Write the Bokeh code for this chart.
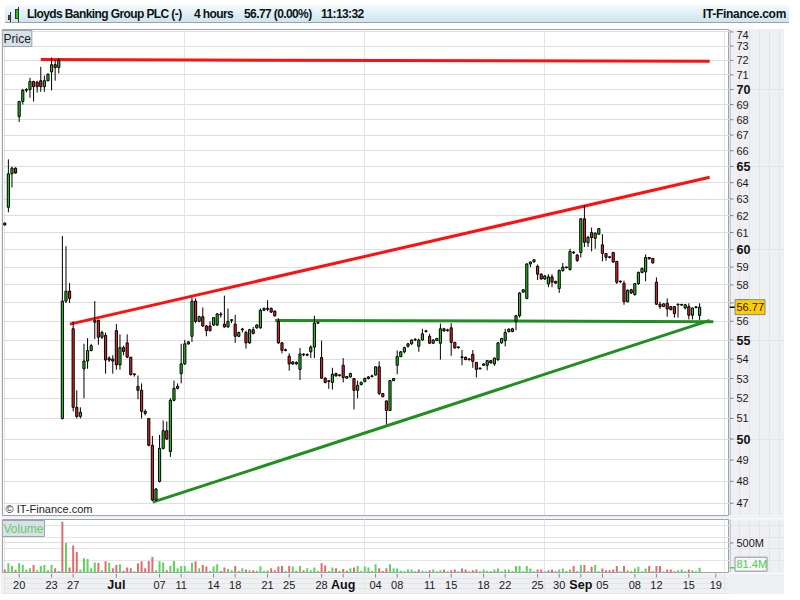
from bokeh.plotting import figure
from bokeh.models import FixedTicker, Label, Div, Range1d, ColumnDataSource, Grid
from bokeh.layouts import column, row
from bokeh.core.properties import value
from bokeh.embed import file_html
from bokeh.resources import INLINE

# ---------------- data (4-hour bars, index = bar number) ----------------
opens = [61.55, 62.5, 64.55, 64.9, 68.2, 69.2, 69.95, 70.0, 70.55, 70.5,
         70.6, 70.2, 70.6, 71.2, 71.7, 71.5, 51.0, 57.1, 57.65, 55.6,
         51.55, 51.1, 53.5, 53.9, 54.45, 55.95, 56.05, 55.15, 55.25, 54.05,
         54.0, 55.5, 53.7, 54.6, 54.85, 54.1, 53.2, 52.6, 52.4, 51.35,
         51.0, 49.7, 47.15, 48.0, 49.55, 50.4, 49.4, 51.9, 52.5, 53.25,
         53.75, 54.8, 55.2, 57.1, 56.0, 56.25, 55.75, 55.75, 55.8, 55.8,
         56.35, 55.85, 55.7, 56.05, 55.85, 55.2, 55.55, 55.4, 54.85, 55.55,
         55.65, 55.65, 56.6, 56.65, 56.7, 56.55, 56.0, 54.85, 54.45, 54.15,
         53.75, 53.75, 53.47, 54.25, 54.2, 54.38, 54.63, 55.9, 54.08, 53.02,
         52.85, 52.8, 53.25, 53.15, 53.68, 53.1, 53.08, 53.0, 52.4, 52.69,
         52.85, 53.0, 53.1, 53.18, 53.6, 52.24, 51.87, 51.39, 52.89, 53.68,
         54.13, 54.38, 54.67, 54.8, 55.0, 54.67, 55.0, 55.45, 55.2, 54.83,
         54.97, 54.83, 55.6, 55.5, 55.65, 54.88, 54.6, 54.1, 54.1, 54.0,
         54.25, 53.83, 53.5, 53.68, 53.68, 53.92, 53.75, 53.97, 54.85, 54.97,
         55.45, 55.6, 56.0, 56.3, 57.6, 57.25, 59.18, 59.3, 59.05, 58.6,
         58.33, 58.05, 58.45, 58.2, 57.8, 58.8, 58.98, 58.87, 59.85, 59.69,
         59.84, 61.81, 60.4, 61.0, 60.66, 60.9, 60.28, 59.78, 59.56, 59.84,
         59.33, 58.18, 58.09, 57.07, 57.73, 57.46, 58.07, 58.7, 58.73, 59.55,
         59.5, 58.15, 56.93, 56.8, 56.98, 56.8, 56.8, 56.9, 56.88, 56.72,
         56.8, 56.33, 56.75, 56.32]
highs = [61.6, 65.45, 65.0, 64.95, 69.25, 70.05, 70.1, 70.8, 70.6, 70.6,
         71.55, 70.95, 71.1, 72.2, 72.0, 72.15, 60.8, 60.2, 58.1, 56.0,
         52.4, 51.55, 54.8, 55.1, 54.8, 57.1, 56.1, 55.5, 55.4, 54.15,
         54.2, 55.85, 55.3, 54.7, 55.3, 54.1, 53.25, 53.15, 52.75, 51.45,
         51.0, 50.15, 47.7, 50.2, 50.9, 50.85, 52.0, 52.9, 52.75, 54.8,
         55.0, 54.95, 57.3, 57.25, 56.3, 56.75, 55.8, 56.0, 56.2, 56.45,
         56.5, 57.4, 56.7, 56.1, 56.35, 55.45, 55.65, 55.5, 55.6, 55.7,
         55.85, 56.7, 56.75, 57.15, 56.75, 56.6, 56.17, 54.9, 54.55, 54.3,
         53.9, 53.88, 54.58, 54.3, 54.3, 54.72, 56.3, 55.98, 54.97, 53.05,
         52.92, 53.55, 53.3, 53.2, 54.05, 53.12, 53.3, 53.0, 52.89, 52.85,
         53.05, 53.12, 53.2, 53.62, 53.88, 52.27, 51.87, 52.92, 53.02, 54.45,
         54.42, 54.65, 54.85, 55.03, 55.1, 55.08, 55.6, 55.55, 55.33, 55.05,
         55.12, 55.88, 55.65, 55.6, 55.9, 54.9, 54.65, 54.47, 54.12, 54.02,
         54.47, 53.85, 53.55, 53.78, 53.95, 53.95, 54.08, 54.9, 55.12, 55.6,
         55.62, 55.65, 56.35, 57.6, 57.75, 59.22, 59.32, 59.45, 59.15, 58.65,
         58.55, 58.6, 58.6, 58.22, 58.85, 59.24, 59.02, 60.05, 59.92, 59.75,
         61.85, 62.63, 60.81, 61.29, 61.0, 61.25, 60.9, 59.8, 59.6, 59.87,
         59.35, 58.25, 58.24, 57.75, 57.78, 58.1, 58.75, 58.97, 59.73, 59.58,
         59.52, 58.42, 57.07, 56.97, 57.25, 56.82, 56.82, 56.93, 56.95, 56.95,
         56.98, 56.75, 56.82, 56.98]
lows = [61.4, 62.2, 63.7, 64.55, 67.85, 69.0, 69.8, 69.45, 69.2, 69.8,
        69.85, 69.85, 70.55, 69.95, 70.6, 71.1, 50.95, 57.0, 57.0, 51.35,
        51.0, 51.0, 52.0, 53.5, 54.4, 55.05, 54.75, 55.05, 53.25, 53.85,
        53.25, 53.45, 53.45, 54.2, 54.05, 53.15, 53.1, 51.95, 51.0, 51.15,
        49.65, 47.1, 47.1, 47.95, 49.5, 49.95, 49.15, 51.85, 52.45, 52.75,
        53.7, 54.75, 54.9, 55.9, 55.95, 55.7, 55.2, 55.45, 55.75, 55.75,
        56.2, 55.65, 55.65, 55.9, 54.85, 55.15, 55.4, 54.55, 54.8, 55.3,
        55.6, 55.6, 56.55, 56.55, 56.45, 56.25, 54.8, 54.3, 54.4, 53.4,
        53.7, 53.7, 52.92, 54.15, 54.15, 54.05, 54.05, 55.85, 52.98, 52.75,
        52.48, 52.44, 53.1, 53.1, 52.8, 53.0, 53.05, 51.44, 52.0, 52.65,
        52.8, 52.95, 53.05, 53.15, 52.16, 52.05, 50.71, 51.39, 52.87, 53.22,
        54.1, 54.3, 54.6, 54.75, 54.95, 54.38, 54.97, 55.4, 54.8, 54.8,
        54.95, 53.97, 55.45, 55.45, 54.17, 54.55, 54.55, 53.68, 53.95, 53.92,
        53.55, 53.05, 53.45, 53.65, 53.42, 53.78, 53.65, 53.9, 54.8, 54.66,
        55.4, 55.42, 55.52, 56.2, 57.55, 57.2, 59.0, 59.25, 58.27, 58.3,
        58.28, 57.87, 57.87, 58.05, 57.55, 58.75, 58.93, 58.8, 59.75, 59.3,
        59.55, 60.15, 60.15, 59.9, 60.05, 60.88, 59.33, 59.36, 59.5, 59.24,
        58.05, 58.1, 56.9, 57.02, 57.5, 57.4, 58.0, 58.65, 58.2, 59.45,
        59.2, 56.9, 56.67, 56.78, 56.25, 56.6, 56.2, 56.2, 56.85, 56.65,
        56.1, 56.1, 56.7, 56.07]
closes = [61.45, 64.55, 64.9, 64.6, 69.2, 69.95, 70.0, 70.55, 70.2, 70.2,
          70.2, 70.6, 71.05, 71.7, 71.5, 72.0, 57.1, 57.65, 57.25, 51.55,
          51.1, 51.3, 53.9, 54.45, 54.7, 56.05, 55.15, 55.4, 53.95, 53.95,
          53.9, 53.7, 54.6, 54.4, 54.1, 53.2, 53.2, 52.4, 51.35, 51.25,
          49.7, 47.15, 47.65, 49.55, 50.4, 50.0, 51.9, 52.5, 52.6, 53.75,
          54.8, 54.9, 57.1, 56.0, 56.25, 55.75, 55.5, 55.5, 56.2, 56.4,
          56.35, 55.7, 56.0, 56.05, 55.2, 55.4, 55.55, 54.85, 55.55, 55.35,
          55.8, 56.6, 56.7, 56.7, 56.5, 56.3, 54.85, 54.45, 54.45, 53.75,
          53.85, 53.83, 54.27, 54.22, 54.23, 54.63, 55.91, 55.92, 53.02, 52.8,
          52.85, 53.22, 53.13, 53.17, 53.05, 53.02, 53.25, 52.4, 52.65, 52.8,
          53.0, 53.08, 53.13, 53.6, 52.24, 52.08, 51.39, 52.89, 53.0, 54.13,
          54.38, 54.6, 54.8, 55.0, 55.02, 55.0, 55.33, 55.47, 54.83, 55.0,
          55.08, 55.6, 55.48, 55.52, 54.88, 54.58, 54.6, 54.08, 53.97, 53.97,
          53.88, 53.47, 53.52, 53.75, 53.92, 53.8, 54.05, 54.85, 55.08, 55.4,
          55.58, 55.45, 56.3, 57.55, 57.73, 59.18, 59.29, 59.42, 58.6, 58.33,
          58.5, 58.45, 58.15, 58.1, 58.82, 59.0, 58.97, 59.9, 59.82, 59.38,
          61.81, 60.43, 60.72, 60.7, 60.96, 61.23, 59.78, 59.56, 59.55, 59.29,
          58.15, 58.17, 57.07, 57.7, 57.55, 58.07, 58.7, 58.93, 59.55, 59.47,
          59.24, 56.93, 56.8, 56.95, 56.67, 56.63, 56.42, 56.9, 56.9, 56.9,
          56.33, 56.72, 56.77, 56.77]
volumes_m = [50, 155, 110, 45, 155, 125, 50, 70, 125, 40,
             110, 125, 40, 125, 70, 25, 860, 500, 85, 455,
             345, 50, 240, 230, 70, 170, 160, 40, 190, 165,
             70, 125, 140, 30, 85, 70, 20, 155, 190, 70,
             195, 260, 40, 190, 170, 40, 115, 195, 70, 110,
             110, 25, 165, 190, 70, 125, 100, 25, 100, 140,
             25, 85, 60, 40, 110, 25, 70, 50, 40, 40,
             30, 105, 25, 40, 70, 40, 100, 110, 25, 110,
             100, 25, 110, 40, 70, 40, 85, 25, 155, 120,
             25, 85, 70, 30, 60, 30, 70, 85, 110, 25,
             100, 85, 25, 140, 70, 25, 70, 140, 70, 69,
             29, 23, 52, 52, 23, 52, 29, 23, 40, 52,
             23, 40, 52, 23, 40, 52, 23, 69, 52, 23,
             40, 52, 23, 52, 29, 23, 52, 69, 23, 52,
             52, 23, 109, 109, 23, 109, 69, 23, 52, 52,
             23, 40, 52, 23, 52, 69, 23, 52, 109, 23,
             126, 126, 23, 98, 126, 23, 69, 40, 40, 52,
             109, 23, 109, 40, 23, 69, 98, 23, 69, 109,
             23, 109, 109, 23, 52, 52, 23, 40, 52, 23,
             52, 40, 23, 81.4]

price_ticks = list(range(47, 75))
bold_price_ticks = [50, 55, 60, 65, 70]
date_tick_pos = [4, 13, 19, 31, 43, 49, 58, 64, 73, 79, 88, 94, 103, 109,
                 118, 124, 133, 139, 148, 154, 160, 166, 175, 181, 190, 197.5]
date_tick_labels = ["20", "23", "27", "Jul", "07", "11", "14", "18", "21", "25",
                    "28", "Aug", "04", "08", "11", "15", "18", "22", "25", "30",
                    "Sep", "05", "08", "12", "15", "19"]
bold_date_labels = ["Jul", "Aug", "Sep"]
last_price = 56.77
last_volume_m = 81.4
volume_tick_m = 500

# trend lines (bar index, price)
red_flat_x, red_flat_y = [10.0, 195.8], [72.05, 71.93]
red_up_x, red_up_y = [18.1, 195.8], [55.85, 64.33]
green_flat_x, green_flat_y = [75.1, 196.8], [56.05, 55.98]
green_up_x, green_up_y = [41.1, 195.8], [47.05, 56.05]

# ---------------- style ----------------
W = 784
ML = 2
AXW = 55
MAIN_W = W - AXW
FONT = "Liberation Sans"
BG = "#eef0f3"
FRAME = "#9aa4ad"
TICK = "#7d8790"
GREEN, RED = "#22c422", "#e32222"
VGREEN, VRED = "#5cd45c", "#e26a6a"
TXT = "#1a1a1a"
H_PRICE, H_VOL, H_X = 490, 55, 21

n = len(closes)
idx = list(range(n))
tops, bots, cols = [], [], []
for o, c in zip(opens, closes):
    lo, hi = min(o, c), max(o, c)
    if hi / lo < 1.0007:
        hi = lo * 1.0007
    tops.append(hi)
    bots.append(lo)
    cols.append(GREEN if c >= o else RED)
vcols = []
for i in range(n):
    ref = closes[i - 1] if i > 0 else opens[i]
    vcols.append(VGREEN if closes[i] >= ref else VRED)

src = ColumnDataSource(dict(x=idx, h=highs, l=lows, top=tops, bot=bots, col=cols))

XR = Range1d(-0.63, 201.3)
YR = Range1d(46.45, 74.17)
VYR = Range1d(0, 896)


def base_fig(**kw):
    return figure(output_backend="svg", toolbar_location=None,
                  x_axis_location=None, y_axis_location=None, **kw)


# ---------------- header ----------------
hs = "position:absolute;top:1px;line-height:16px;"
header_html = (
    '<div style="position:relative;width:784px;height:18px;box-sizing:border-box;'
    'background:linear-gradient(to bottom,#f3fbfe,#cde5ef);border-bottom:1px solid #9aa4ad;'
    "font-family:'Liberation Sans',Arial,sans-serif;font-weight:bold;font-size:12px;"
    'letter-spacing:-0.6px;color:#111;white-space:nowrap;overflow:hidden;">'
    '<span style="position:absolute;left:5px;top:7px;width:1px;height:10px;background:#333;"></span>'
    '<span style="position:absolute;left:3px;top:10px;width:3px;height:5px;background:#e02020;border:1px solid #333;"></span>'
    '<span style="position:absolute;left:13px;top:2px;width:1px;height:15px;background:#333;"></span>'
    '<span style="position:absolute;left:10px;top:4px;width:4px;height:10px;background:#22c422;border:1px solid #333;"></span>'
    f'<span style="{hs}left:22px;">Lloyds Banking Group PLC (-)</span>'
    f'<span style="{hs}left:189px;">4 hours</span>'
    f'<span style="{hs}left:239px;">56.77 (0.00%)</span>'
    f'<span style="{hs}left:316px;">11:13:32</span>'
    f'<span style="{hs}right:3px;letter-spacing:-0.3px;">IT-Finance.com</span>'
    '</div>'
)
header = Div(text=header_html, width=W, height=18)

# ---------------- price panel ----------------
p = base_fig(width=MAIN_W, height=H_PRICE, x_range=XR, y_range=YR, y_axis_type="log",
             min_border_left=ML, min_border_right=0, min_border_top=1, min_border_bottom=3,
             background_fill_color="white", border_fill_color=BG,
             outline_line_color=FRAME, outline_line_width=1)
p.add_layout(Grid(dimension=1, ticker=FixedTicker(ticks=price_ticks, minor_ticks=[]),
                  grid_line_color="#dedede", grid_line_width=1))

p.line(red_flat_x, red_flat_y, line_color="#ff1010", line_width=3)
p.line(red_up_x, red_up_y, line_color="#ff1010", line_width=3)
p.line(green_flat_x, green_flat_y, line_color="#1f8f1f", line_width=3)
p.line(green_up_x, green_up_y, line_color="#1f8f1f", line_width=3)

p.segment(x0="x", y0="l", x1="x", y1="h", source=src, line_color="black", line_width=1)
p.vbar(x="x", width=0.6, top="top", bottom="bot", source=src,
       fill_color="col", line_color="black", line_width=1)

p.add_layout(Label(x=XR.start, y=YR.end, text="Price", y_offset=-1,
                   text_font=FONT, text_font_size="12px", text_color="#1a1a2a",
                   text_baseline="top", text_align="left",
                   background_fill_color="#d9e1e7", border_line_color=FRAME, padding=1))
p.add_layout(Label(x=XR.start, y=YR.start, text="© IT-Finance.com", x_offset=3, y_offset=1,
                   text_font=FONT, text_font_size="11px", text_color="#222",
                   text_baseline="bottom", text_align="left"))

# price axis column (right)
pa = base_fig(width=AXW, height=H_PRICE, x_range=Range1d(0, AXW), y_range=YR, y_axis_type="log",
              min_border_left=0, min_border_right=0, min_border_top=1, min_border_bottom=3,
              background_fill_color=BG, border_fill_color=BG, outline_line_color=None)
pa.segment(x0=0.5, y0=YR.start, x1=0.5, y1=YR.end, line_color=FRAME, line_width=1)
pa.segment(x0=0, y0=price_ticks, x1=4, y1=price_ticks, line_color=TICK, line_width=1)
reg = [t for t in price_ticks if t not in bold_price_ticks and t != price_ticks[-1]]
pa.text(x=7, y=reg, text=[str(t) for t in reg], text_font=value(FONT),
        text_font_size="11px", text_color=TXT, text_baseline="middle", text_align="left")
pa.text(x=7, y=bold_price_ticks, text=[str(t) for t in bold_price_ticks], text_font=value(FONT),
        text_font_size="12.5px", text_font_style="bold", text_color="#111",
        text_baseline="middle", text_align="left")
pa.text(x=7, y=[price_ticks[-1]], text=[str(price_ticks[-1])], y_offset=3, text_font=value(FONT),
        text_font_size="11px", text_color=TXT, text_baseline="middle", text_align="left")
pa.segment(x0=0, y0=last_price, x1=6, y1=last_price, line_color="black", line_width=1.5)
pa.rect(x=20.5, y=last_price, width=30, height=15, height_units="screen",
        fill_color="#ffcc00", line_color="#8a8a8a", line_width=1)
pa.text(x=7, y=[last_price], text=[f"{last_price:.2f}"], text_font=value(FONT),
        text_font_size="11px", text_color="#222", text_baseline="middle", text_align="left")

# ---------------- volume panel ----------------
v = base_fig(width=MAIN_W, height=H_VOL, x_range=XR, y_range=VYR,
             min_border_left=ML, min_border_right=0, min_border_top=1, min_border_bottom=1,
             background_fill_color="white", border_fill_color=BG,
             outline_line_color=FRAME, outline_line_width=1)
v.add_layout(Grid(dimension=1, ticker=FixedTicker(ticks=[volume_tick_m], minor_ticks=[]),
                  grid_line_color="#dedede", grid_line_width=1))
v.vbar(x=idx, top=volumes_m, width=0.55, fill_color=vcols, line_color=None)
v.add_layout(Label(x=XR.start, y=VYR.end, text="Volume", y_offset=-1,
                   text_font=FONT, text_font_size="12px", text_color="#66cc66",
                   text_baseline="top", text_align="left",
                   background_fill_color="#d9e1e7", border_line_color=FRAME, padding=1))

va = base_fig(width=AXW, height=H_VOL, x_range=Range1d(0, AXW), y_range=VYR,
              min_border_left=0, min_border_right=0, min_border_top=1, min_border_bottom=1,
              background_fill_color=BG, border_fill_color=BG, outline_line_color=None)
va.segment(x0=0.5, y0=VYR.start, x1=0.5, y1=VYR.end, line_color=FRAME, line_width=1)
va.segment(x0=0, y0=volume_tick_m, x1=4, y1=volume_tick_m, line_color=TICK, line_width=1)
va.text(x=7, y=[volume_tick_m], text=[f"{volume_tick_m}M"], text_font=value(FONT),
        text_font_size="11px", text_color=TXT, text_baseline="middle", text_align="left")
va.segment(x0=0, y0=last_volume_m, x1=5, y1=last_volume_m, line_color="#55cc55", line_width=1.5)
# the value box sits slightly above its tick so that it stays inside the panel
vol_px = (VYR.end - VYR.start) / (H_VOL - 2)
box_y = last_volume_m + 3.5 * vol_px
va.rect(x=21.5, y=box_y, width=32, height=14, height_units="screen",
        fill_color="#f4f6f8", line_color="#8a949c", line_width=1)
va.text(x=7, y=[box_y], text=[f"{last_volume_m}M"], text_font=value(FONT),
        text_font_size="11px", text_color="#55cc55", text_baseline="middle", text_align="left")

# ---------------- date axis ----------------
xa = base_fig(width=W, height=H_X, x_range=XR, y_range=Range1d(-H_X, 0),
              min_border_left=ML, min_border_right=AXW, min_border_top=0, min_border_bottom=0,
              background_fill_color=BG, border_fill_color=BG, outline_line_color=None)
xa.segment(x0=date_tick_pos, y0=0, x1=date_tick_pos, y1=-4, line_color=TICK, line_width=1)
reg_pos = [pp for pp, lab in zip(date_tick_pos, date_tick_labels) if lab not in bold_date_labels]
reg_lab = [lab for lab in date_tick_labels if lab not in bold_date_labels]
b_pos = [pp for pp, lab in zip(date_tick_pos, date_tick_labels) if lab in bold_date_labels]
b_lab = [lab for lab in date_tick_labels if lab in bold_date_labels]
xa.text(x=reg_pos, y=-11, text=reg_lab, text_font=value(FONT), text_font_size="11px",
        text_color=TXT, text_baseline="middle", text_align="center")
xa.text(x=b_pos, y=-11, text=b_lab, text_font=value(FONT), text_font_size="12.5px",
        text_font_style="bold", text_color="#111", text_baseline="middle", text_align="center")

layout = column(header, row(p, pa, spacing=0), row(v, va, spacing=0), xa, spacing=0)
open("out.html", "w").write(file_html(layout, INLINE))
